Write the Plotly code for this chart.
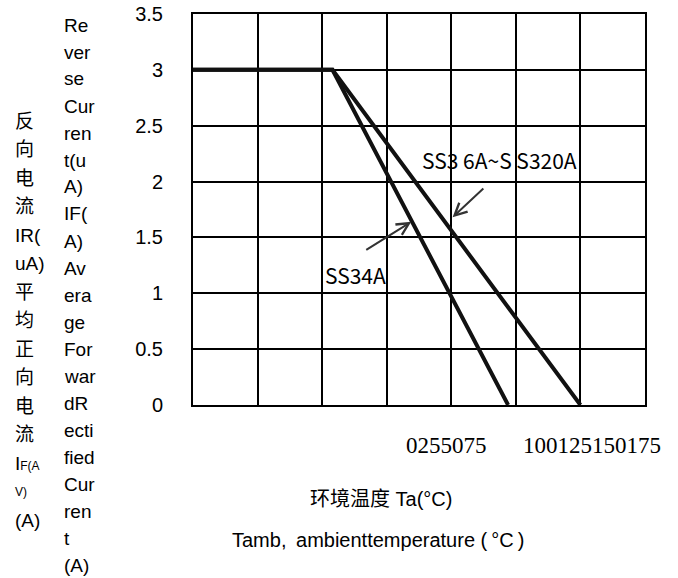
import plotly.graph_objects as go

# ---------------- data ----------------
x_ticks = [0, 25, 50, 75, 100, 125, 150, 175]
x_tick_labels = ["0", "25", "50", "75", "100", "125", "150", "175"]
y_ticks = [0, 0.5, 1, 1.5, 2, 2.5, 3, 3.5]
y_tick_labels = ["0", "0.5", "1", "1.5", "2", "2.5", "3", "3.5"]

ss34_x = [0, 54, 122]
ss34_y = [3, 3, 0]
ss36_x = [0, 54, 150]
ss36_y = [3, 3, 0]

label_ss36 = "SS3 6A~S S320A"
label_ss34 = "SS34A"
xtitle_cn = "环境温度 Ta(°C)"
xtitle_en = "Tamb,\u2009 ambienttemperature (\u2009°C\u2009)"
ytitle_cn_lines = ["反", "向", "电", "流", "IR(", "uA)", "平", "均", "正", "向", "电", "流",
                   "I<span style='font-size:12px'>F(A</span>",
                   "<span style='font-size:12px'>V)</span>", "(A)"]
ytitle_en_lines = ["Re", "ver", "se", "Cur", "ren", "t(u", "A)", "IF(", "A)", "Av", "era",
                   "ge", "For", "war", "dR", "ecti", "fied", "Cur", "ren", "t", "(A)"]

# ---------------- layout helpers ----------------
W, H = 678, 578
PL, PR, PT, PB = 193, 645, 14, 405


def px(xp):
    return (xp - PL) / (PR - PL)


def py(yp):
    return (PB - yp) / (PB - PT)


SANS = "Liberation Sans, Arial, sans-serif"
CJK = "Noto Sans CJK SC, sans-serif"
MIXED = "Liberation Sans, Noto Sans CJK SC, sans-serif"

fig = go.Figure()
for xs, ys in [(ss34_x, ss34_y), (ss36_x, ss36_y)]:
    fig.add_trace(go.Scatter(x=xs, y=ys, mode="lines",
                             line=dict(color="#111111", width=4),
                             showlegend=False, hoverinfo="skip"))

ann = []
# y-title columns
for i, t in enumerate(ytitle_cn_lines):
    ann.append(dict(text=t, x=px(13), y=py(121 + 28.5 * i), xref="paper", yref="paper",
                    xanchor="left", yanchor="middle", showarrow=False,
                    font=dict(family=MIXED, size=19, color="black")))
for i, t in enumerate(ytitle_en_lines):
    ann.append(dict(text=t, x=px(62), y=py(25 + 27 * i), xref="paper", yref="paper",
                    xanchor="left", yanchor="middle", showarrow=False,
                    font=dict(family=SANS, size=19, color="black")))

# x tick label groups (as in reference)
ann.append(dict(text="".join(x_tick_labels[:4]), x=px(446), y=py(445), xref="paper", yref="paper",
                xanchor="center", yanchor="middle", showarrow=False,
                font=dict(family="Liberation Serif, serif", size=23, color="black")))
ann.append(dict(text="".join(x_tick_labels[4:]), x=px(592), y=py(445), xref="paper", yref="paper",
                xanchor="center", yanchor="middle", showarrow=False,
                font=dict(family="Liberation Serif, serif", size=23, color="black")))

# x titles
ann.append(dict(text=xtitle_cn, x=px(381), y=py(499), xref="paper", yref="paper",
                xanchor="center", yanchor="middle", showarrow=False,
                font=dict(family=MIXED, size=20, color="black")))
ann.append(dict(text=xtitle_en, x=px(378), y=py(540), xref="paper", yref="paper",
                xanchor="center", yanchor="middle", showarrow=False,
                font=dict(family=SANS, size=20, color="black")))

# series labels
ann.append(dict(text=label_ss36, x=px(499), y=py(160), xref="paper", yref="paper",
                xanchor="center", yanchor="middle", showarrow=False,
                font=dict(family=CJK, size=21, color="black")))
ann.append(dict(text=label_ss34, x=px(355), y=py(275), xref="paper", yref="paper",
                xanchor="center", yanchor="middle", showarrow=False,
                font=dict(family=CJK, size=21, color="black")))

# arrows
ann.append(dict(x=100.5, y=1.68, ax=113, ay=1.95, xref="x", yref="y", axref="x", ayref="y",
                text="", showarrow=True, arrowhead=5, arrowsize=1.2, arrowwidth=2, arrowcolor="#333333"))
ann.append(dict(x=84.5, y=1.64, ax=66.5, ay=1.38, xref="x", yref="y", axref="x", ayref="y",
                text="", showarrow=True, arrowhead=5, arrowsize=1.2, arrowwidth=2, arrowcolor="#333333"))

fig.update_layout(
    width=W, height=H,
    margin=dict(l=PL, r=W - PR, t=PT, b=H - PB, pad=0, autoexpand=False),
    paper_bgcolor="white", plot_bgcolor="white",
    showlegend=False,
    annotations=ann,
    xaxis=dict(range=[0, 175], tickvals=x_ticks, showticklabels=False, ticks="",
               automargin=False,
               showgrid=True, gridcolor="black", gridwidth=2, zeroline=False,
               showline=True, mirror=True, linecolor="black", linewidth=2),
    yaxis=dict(range=[0, 3.5], tickvals=y_ticks, ticktext=y_tick_labels, ticks="",
               automargin=False,
               showgrid=True, gridcolor="black", gridwidth=2, zeroline=False,
               showline=True, mirror=True, linecolor="black", linewidth=2,
               ticklabelstandoff=24,
               tickfont=dict(family=SANS, size=20, color="black")),
)

fig.write_html("out.html", config={"displayModeBar": False},
               post_script="document.body.style.margin='0';")
